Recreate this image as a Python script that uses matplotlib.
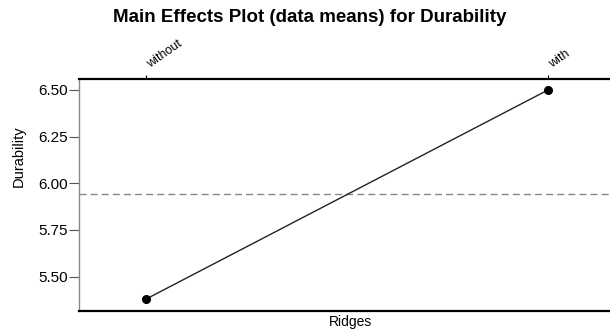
import matplotlib
matplotlib.use("Agg")
import matplotlib.pyplot as plt
from matplotlib.transforms import ScaledTranslation

levels = ["without", "with"]
means = [5.38, 6.50]
grand_mean = 5.94
yticks = [5.50, 5.75, 6.00, 6.25, 6.50]

plt.rcParams["font.family"] = ["Liberation Sans", "DejaVu Sans"]

fig = plt.figure(figsize=(6.10, 3.32), dpi=100)
ax = fig.add_axes([0.1295, 0.0633, 0.8705, 0.699])

xpos = list(range(1, len(levels) + 1))
ax.plot(xpos, means, color="#222222", linewidth=1.0, marker="o",
        markersize=5.5, markerfacecolor="black", markeredgecolor="black", zorder=3)
ax.axhline(grand_mean, color="#888888", linestyle=(0, (5, 3)), linewidth=1.0)

ax.set_xlim(0.833, 2.154)
ax.set_ylim(5.316, 6.559)
ax.set_yticks(yticks)
ax.set_yticklabels([f"{v:.2f}" for v in yticks], fontsize=11)
ax.tick_params(axis="y", direction="out", length=7, width=0.8, color="#555555", pad=1)

ax.xaxis.tick_top()
ax.set_xticks(xpos)
ax.set_xticklabels(levels, fontsize=9, rotation=35, ha="left", va="bottom",
                   rotation_mode="anchor")
ax.tick_params(axis="x", direction="out", length=3, width=0.8, pad=3)
# nudge the slanted level labels so they start right at their tick
shift = ScaledTranslation(4 / 72, 0, fig.dpi_scale_trans)
for lbl in ax.get_xticklabels():
    lbl.set_transform(lbl.get_transform() + shift)

ax.spines["left"].set_color("#888888")
ax.spines["left"].set_linewidth(1.0)
ax.spines["top"].set_linewidth(1.6)
ax.spines["bottom"].set_linewidth(1.6)
ax.spines["right"].set_visible(False)

fig.text(0.030, 0.53, "Durability", fontsize=10.5, rotation=90,
         ha="center", va="center")
fig.text(0.575, 0.03, "Ridges", fontsize=10, ha="center", va="center")
fig.text(0.507, 0.947, "Main Effects Plot (data means) for Durability",
         fontsize=13.5, fontweight="bold", ha="center", va="center")

fig.savefig("out.png", dpi=100)
